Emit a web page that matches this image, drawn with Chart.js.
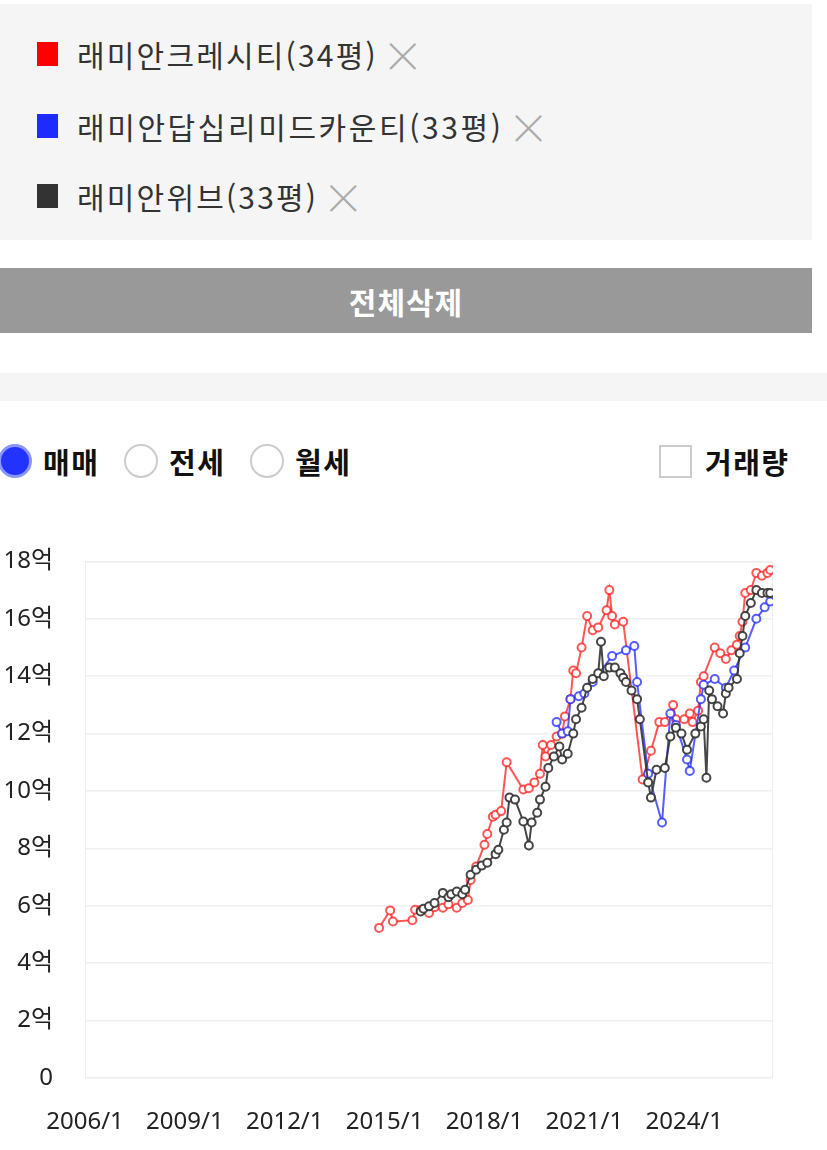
<!DOCTYPE html>
<html lang="ko">
<head>
<meta charset="utf-8">
<script src="https://cdn.jsdelivr.net/npm/chart.js@4.4.1/dist/chart.umd.min.js"></script>
<style>
  html, body { margin: 0; padding: 0; background: #fff; }
  body { width: 827px; height: 1150px; position: relative; overflow: hidden;
         font-family: "Noto Sans CJK KR", "Noto Sans", sans-serif; color: #333; }
  .panel { position: absolute; left: 0; top: 4px; width: 812px; height: 236px; background: #f5f5f5; }
  .item { position: absolute; left: 37px; height: 30px; display: flex; align-items: center; }
  .item .sw { width: 21px; height: 24px; margin-right: 19px; }
  .item .nm { font-size: 30px; letter-spacing: 2.2px; color: #333; }
  .item .x { font-size: 42px; color: #aaa; margin-left: 4px; font-weight: 300; line-height: 30px; }
  .btn { position: absolute; left: 0; top: 268px; width: 812px; height: 65px; background: #999;
         color: #fff; font-weight: bold; font-size: 30px; letter-spacing: 1px; display: flex; align-items: center; justify-content: center; }
  .band { position: absolute; left: 0; top: 373px; width: 827px; height: 28px; background: #f5f5f5; }
  .opt { position: absolute; top: 444px; height: 34px; display: flex; align-items: center; font-weight: bold; font-size: 29px; letter-spacing: 1.5px; color: #111; }
  .radio { width: 34px; height: 34px; border-radius: 50%; border: 2px solid #ccc; background: #fff; box-sizing: border-box; margin-right: 11px; }
  .radio.on { background: #2233ff; border: 3px solid #8a95ff; }
  .check { width: 33px; height: 33px; border: 2px solid #ccc; box-sizing: border-box; margin-right: 13px; }
  #wrap { position: absolute; left: 0; top: 515px; width: 827px; height: 635px; }
</style>
</head>
<body>
<div class="panel">
  <div class="item" style="top:35px"><div class="sw" style="background:#ff0000"></div><span class="nm">래미안크레시티(34평)</span><span class="x">×</span></div>
  <div class="item" style="top:107px"><div class="sw" style="background:#1e2bff"></div><span class="nm" style="letter-spacing:2.6px">래미안답십리미드카운티(33평)</span><span class="x">×</span></div>
  <div class="item" style="top:177px"><div class="sw" style="background:#333333"></div><span class="nm">래미안위브(33평)</span><span class="x">×</span></div>
</div>
<div class="btn">전체삭제</div>
<div class="band"></div>
<div class="opt" style="left:-2px"><div class="radio on"></div>매매</div>
<div class="opt" style="left:124px"><div class="radio"></div>전세</div>
<div class="opt" style="left:250px"><div class="radio"></div>월세</div>
<div class="opt" style="left:659px"><div class="check"></div>거래량</div>
<div id="wrap"><canvas id="grafico"></canvas></div>

<script>
'use strict';

// 시리즈 이름과 색상
const SERIES_NAMES = ['래미안크레시티(34평)', '래미안답십리미드카운티(33평)', '래미안위브(33평)'];
const SERIES_COLORS = ['rgba(255, 30, 30, 0.75)', 'rgba(30, 40, 255, 0.75)', 'rgba(50, 50, 50, 0.9)'];

// 축 눈금
const X_TICKS = ['2006/1', '2009/1', '2012/1', '2015/1', '2018/1', '2021/1', '2024/1'];
const Y_TICKS = [0, 2, 4, 6, 8, 10, 12, 14, 16, 18];
const X_START = '2006/1';
const X_END = '2026/9';

// 래미안크레시티(34평) - 매매 실거래가 (억)
const CRESCITY_DATES = [
    '2014/11', '2015/3', '2015/4', '2015/11', '2015/12', '2016/2', '2016/5', '2016/7', '2016/10', '2016/12',
    '2017/3', '2017/5', '2017/7', '2017/8', '2017/10', '2018/1', '2018/2', '2018/4', '2018/5', '2018/7',
    '2018/9', '2019/3', '2019/5', '2019/7', '2019/9', '2019/10', '2019/11', '2020/1', '2020/3', '2020/5',
    '2020/6', '2020/8', '2020/9', '2020/10', '2020/12', '2021/2', '2021/4', '2021/6', '2021/9', '2021/10',
    '2021/11', '2021/12', '2022/3', '2022/10', '2023/1', '2023/4', '2023/6', '2023/9', '2023/10', '2024/1',
    '2024/3', '2024/4', '2024/6', '2024/7', '2024/8', '2024/12', '2025/2', '2025/4', '2025/6', '2025/8',
    '2025/9', '2025/10', '2025/11', '2026/1', '2026/3', '2026/5', '2026/7', '2026/8'];
const CRESCITY_PRICES = [
    5.23, 5.84, 5.45, 5.5, 5.86, 5.85, 5.75, 5.95, 5.93, 6.05,
    5.93, 6.1, 6.2, 6.9, 7.37, 8.13, 8.5, 9.1, 9.17, 9.3,
    11.0, 10.05, 10.1, 10.3, 10.6, 11.6, 11.2, 11.6, 11.9, 12.0,
    12.6, 13.2, 14.2, 14.1, 15.0, 16.1, 15.6, 15.7, 16.3, 17.0,
    16.1, 15.8, 15.9, 10.4, 11.4, 12.4, 12.4, 13.0, 12.5, 12.5,
    12.7, 12.4, 12.8, 13.8, 14.0, 15.0, 14.8, 14.6, 14.9, 15.1,
    15.4, 15.9, 16.9, 17.0, 17.6, 17.5, 17.6, 17.7];

// 래미안답십리미드카운티(33평)
const MIDCOUNTY_DATES = [
    '2020/3', '2020/5', '2020/7', '2020/8', '2020/11', '2021/1', '2021/4', '2021/11', '2022/4', '2022/7',
    '2022/8', '2022/12', '2023/5', '2023/8', '2023/10', '2024/2', '2024/3', '2024/7', '2024/8', '2024/12',
    '2025/4', '2025/7', '2025/11', '2026/3', '2026/6', '2026/8'];
const MIDCOUNTY_PRICES = [
    12.4, 12.0, 12.08, 13.2, 13.3, 13.4, 13.8, 14.7, 14.9, 15.05,
    13.8, 10.6, 8.9, 12.7, 12.3, 11.1, 10.7, 13.2, 13.7, 13.9,
    13.6, 14.2, 15.0, 16.0, 16.4, 16.6];

// 래미안위브(33평)
const WEVE_DATES = [
    '2016/2', '2016/3', '2016/5', '2016/7', '2016/10', '2016/12', '2017/1', '2017/3', '2017/5', '2017/6',
    '2017/8', '2017/10', '2017/12', '2018/2', '2018/5', '2018/6', '2018/8', '2018/9', '2018/10', '2018/12',
    '2019/3', '2019/5', '2019/6', '2019/8', '2019/9', '2019/11', '2019/12', '2020/2', '2020/4', '2020/5',
    '2020/7', '2020/9', '2020/10', '2020/12', '2021/2', '2021/4', '2021/6', '2021/7', '2021/8', '2021/10',
    '2021/12', '2022/2', '2022/3', '2022/4', '2022/6', '2022/8', '2022/9', '2022/12', '2023/1', '2023/3',
    '2023/6', '2023/8', '2023/10', '2023/12', '2024/2', '2024/5', '2024/7', '2024/8', '2024/9', '2024/10',
    '2024/11', '2025/1', '2025/3', '2025/4', '2025/5', '2025/8', '2025/9', '2025/10', '2025/11', '2026/1',
    '2026/3', '2026/5', '2026/7', '2026/8'];
const WEVE_PRICES = [
    5.8, 5.9, 5.98, 6.1, 6.45, 6.3, 6.4, 6.5, 6.4, 6.56,
    7.08, 7.26, 7.4, 7.5, 7.8, 7.95, 8.65, 8.9, 9.77, 9.7,
    8.94, 8.1, 8.9, 9.24, 9.7, 10.15, 10.8, 11.2, 11.55, 11.1,
    11.3, 12.0, 12.5, 12.9, 13.6, 13.9, 14.1, 15.2, 14.0, 14.3,
    14.3, 14.1, 13.95, 13.8, 13.5, 13.2, 12.5, 10.3, 9.77, 10.74,
    10.8, 11.9, 12.2, 12.0, 11.44, 12.0, 12.25, 12.5, 10.46, 13.5,
    13.2, 12.95, 12.7, 13.4, 13.6, 13.9, 14.8, 15.4, 16.1, 16.55,
    17.0, 16.9, 16.9, 16.9];

/**
 * 'YYYY/M' 문자열을 2006/1 기준 개월 수로 변환한다.
 */
function mesIndice(texto) {
    const partes = texto.split('/');
    return (Number(partes[0]) - 2006) * 12 + (Number(partes[1]) - 1);
}

function puntos(fechas, precios) {
    return fechas.map((f, i) => ({ x: mesIndice(f), y: precios[i] }));
}

function indiceATexto(m) {
    return (2006 + Math.floor(m / 12)) + '/' + (m % 12 + 1);
}

// 플롯 영역 테두리
const bordePlot = {
    id: 'bordePlot',
    beforeDatasetsDraw(chart) {
        const { ctx, chartArea } = chart;
        ctx.save();
        ctx.strokeStyle = '#eeeeee';
        ctx.lineWidth = 1;
        ctx.strokeRect(chartArea.left + 0.5, chartArea.top + 0.5,
            chartArea.right - chartArea.left - 1, chartArea.bottom - chartArea.top - 1);
        ctx.restore();
    }
};

function crearDataset(indice, fechas, precios, orden) {
    return {
        label: SERIES_NAMES[indice],
        data: puntos(fechas, precios),
        borderColor: SERIES_COLORS[indice],
        backgroundColor: '#ffffff',
        pointBackgroundColor: '#ffffff',
        pointBorderColor: SERIES_COLORS[indice],
        pointRadius: 4,
        pointBorderWidth: 2,
        borderWidth: 2,
        tension: 0,
        order: orden
    };
}

const fuenteEje = { family: "'Noto Sans', 'Noto Sans CJK KR', sans-serif", size: 24 };

new Chart(document.getElementById('grafico'), {
    type: 'line',
    data: {
        datasets: [
            crearDataset(0, CRESCITY_DATES, CRESCITY_PRICES, 2),
            crearDataset(1, MIDCOUNTY_DATES, MIDCOUNTY_PRICES, 1),
            crearDataset(2, WEVE_DATES, WEVE_PRICES, 0)
        ]
    },
    options: {
        responsive: true,
        maintainAspectRatio: false,
        animation: false,
        layout: { padding: { top: 3, right: 54, left: 0, bottom: 0 } },
        plugins: {
            legend: { display: false },
            tooltip: { enabled: false }
        },
        scales: {
            x: {
                type: 'linear',
                min: mesIndice(X_START),
                max: mesIndice(X_END),
                afterBuildTicks(scale) {
                    scale.ticks = X_TICKS.map(t => ({ value: mesIndice(t) }));
                },
                afterFit(scale) { scale.height = 72; },
                ticks: {
                    autoSkip: false,
                    maxRotation: 0,
                    color: '#222',
                    padding: 30,
                    font: fuenteEje,
                    callback: (v) => indiceATexto(v)
                },
                grid: { display: false, drawTicks: false },
                border: { display: false }
            },
            y: {
                min: 0,
                max: 18,
                afterBuildTicks(scale) {
                    scale.ticks = Y_TICKS.map(v => ({ value: v }));
                },
                afterFit(scale) { scale.width = 85; },
                ticks: {
                    color: '#222',
                    padding: 32,
                    font: fuenteEje,
                    callback: (v) => v === 0 ? '0' : v + '억'
                },
                grid: { color: '#f0f0f0', lineWidth: 1.5, drawTicks: false },
                border: { display: false }
            }
        }
    },
    plugins: [bordePlot]
});
</script>
</body>
</html>
